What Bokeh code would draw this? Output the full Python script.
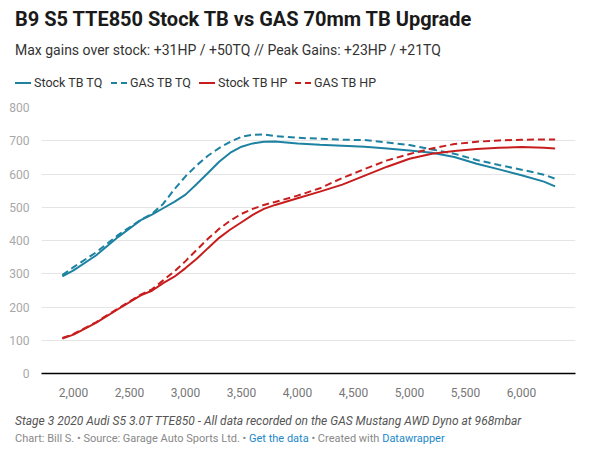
from bokeh.plotting import figure
from bokeh.layouts import column
from bokeh.models import Range1d, FixedTicker, NumeralTickFormatter, Div
from bokeh.embed import file_html
from bokeh.resources import INLINE

# Dyno sweep
rpm = [1900, 2000, 2200, 2400, 2600, 2700, 2800, 2900, 3000, 3100, 3200, 3300,
       3400, 3500, 3600, 3700, 3800, 4000, 4200, 4400, 4600, 4800, 5000, 5200,
       5400, 5600, 5800, 6000, 6200, 6300]

stock_tq = [292, 310, 355, 411, 461, 478, 497, 516, 538, 570, 603, 637,
            664, 682, 692, 697, 698, 692, 688, 685, 682, 677, 671, 664,
            651, 631, 614, 596, 577, 563]
gas_tq = [296, 320, 364, 417, 462, 480, 510, 554, 593, 626, 655, 678,
          697, 712, 718, 719, 714, 709, 706, 703, 702, 695, 687, 674,
          661, 642, 627, 613, 598, 586]
stock_hp = [105, 117, 152, 194, 235, 249, 272, 291, 317, 345, 377, 408,
            433, 455, 477, 495, 507, 527, 547, 568, 595, 622, 646, 661,
            669, 675, 679, 681, 679, 677]
gas_hp = [107, 119, 154, 196, 237, 253, 280, 307, 338, 372, 405, 435,
          460, 480, 495, 507, 516, 535, 557, 588, 615, 641, 660, 677,
          690, 697, 701, 703, 704, 704]

y_ticks = [0, 100, 200, 300, 400, 500, 600, 700, 800]
x_ticks = [2000, 2500, 3000, 3500, 4000, 4500, 5000, 5500, 6000]

series_names = ["Stock TB TQ", "GAS TB TQ", "Stock TB HP", "GAS TB HP"]

title = "B9 S5 TTE850 Stock TB vs GAS 70mm TB Upgrade"
subtitle = "Max gains over stock: +31HP / +50TQ // Peak Gains: +23HP / +21TQ"
caption = "Stage 3 2020 Audi S5 3.0T TTE850 - All data recorded on the GAS Mustang AWD Dyno at 968mbar"

BLUE = "#1d81a2"
RED = "#c71e1d"
LINK = "#1d88c9"
FONT = "Roboto"

p = figure(width=602, height=311, output_backend="svg", toolbar_location=None,
           x_range=Range1d(1714, 6482), y_range=Range1d(0, 800),
           min_border_left=41, min_border_right=27,
           min_border_top=15, min_border_bottom=30)
p.outline_line_color = None

# grid / axes
p.xgrid.grid_line_color = None
p.ygrid.grid_line_color = "#e5e5e5"
p.ygrid.ticker = FixedTicker(ticks=y_ticks)

p.yaxis.ticker = FixedTicker(ticks=y_ticks)
p.yaxis.axis_line_color = None
p.yaxis.major_tick_line_color = None
p.yaxis.minor_tick_line_color = None
p.yaxis.major_label_text_color = "#a8a8a8"
p.yaxis.major_label_text_font = FONT
p.yaxis.major_label_text_font_size = "12px"
p.yaxis.major_label_standoff = 6

p.xaxis.ticker = FixedTicker(ticks=x_ticks)
p.xaxis.formatter = NumeralTickFormatter(format="0,0")
p.xaxis.axis_line_color = "black"
p.xaxis.axis_line_width = 1.5
p.xaxis.major_tick_line_color = None
p.xaxis.minor_tick_line_color = None
p.xaxis.major_label_text_color = "#777777"
p.xaxis.major_label_text_font = FONT
p.xaxis.major_label_text_font_size = "12px"
p.xaxis.major_label_standoff = 8

# curves
styles = [(stock_tq, BLUE, "solid"), (gas_tq, BLUE, "7 4"),
          (stock_hp, RED, "solid"), (gas_hp, RED, "7 4")]
for vals, col, dash in styles:
    p.line(rpm, vals, line_color=col, line_width=2, line_dash=dash)


def text_div(html, height, pad_top, size, line_h):
    return Div(text=html, width=602, height=height, margin=0,
               styles={"font-family": FONT, "font-size": size,
                       "line-height": line_h, "padding-top": pad_top,
                       "padding-left": "15px", "box-sizing": "border-box",
                       "white-space": "nowrap"})


# legend row (html, same colours / dashes as the lines)
item_w = [96, 88, 96, 90]
items = []
for name, (vals, col, dash), w in zip(series_names, styles, item_w):
    if dash == "solid":
        bg = col
    else:
        bg = "repeating-linear-gradient(90deg, %s 0 6px, transparent 6px 10px)" % col
    items.append('<span style="display:flex;align-items:center;width:%dpx">'
                 '<span style="display:inline-block;width:16px;height:2px;background:%s;margin-right:3px"></span>'
                 '<span style="color:#333333">%s</span></span>' % (w, bg, name))
leg = text_div('<div style="display:flex">%s</div>' % "".join(items),
               32, "10px", "12.5px", "20px")

head = text_div('<span style="font-weight:700;color:#1a1a1a">%s</span>' % title,
                34, "7px", "20px", "24px")
sub = text_div('<span style="color:#333333">%s</span>' % subtitle,
               26, "7px", "14px", "18px")
cap = text_div('<span style="font-style:italic;color:#555555">%s</span>' % caption,
               26, "10px", "12px", "16px")
cred = text_div('<span style="color:#888888">Chart: Bill S. \u2022 Source: Garage Auto Sports Ltd. \u2022 </span>'
                '<span style="color:%s">Get the data</span>'
                '<span style="color:#888888"> \u2022 Created with </span>'
                '<span style="color:%s">Datawrapper</span>' % (LINK, LINK),
                21, "3px", "11px", "14px")

layout = column(head, sub, leg, p, cap, cred, spacing=0)

open("out.html", "w").write(file_html(layout, INLINE))
